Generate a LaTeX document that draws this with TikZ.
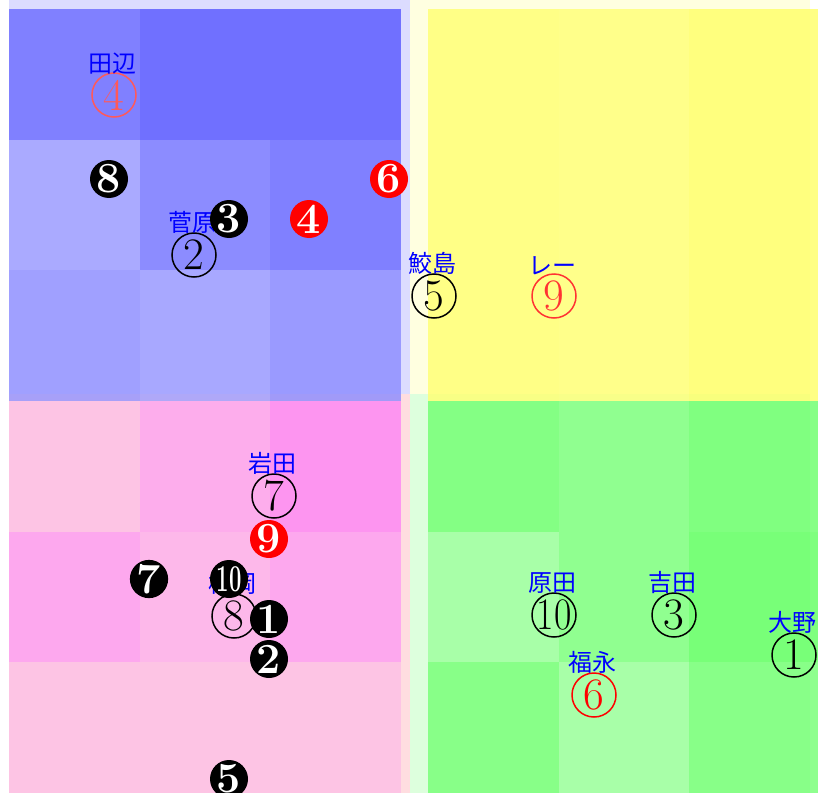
\documentclass[tikz,border=0pt]{standalone}
\usepackage{fontspec}
\newfontfamily\jp{Noto Sans CJK JP}
\usetikzlibrary{positioning}
\definecolor{bgblue}  {HTML}{DCDCFF}
\definecolor{bgyellow}{HTML}{FFFFE0}
\definecolor{bgpink}  {HTML}{FFDDE0}
\definecolor{bggreen} {HTML}{DDFFDD}
\newcommand{\tenring}{\makebox[14pt][c]{\scalebox{0.84}[1]{10}}}
\newcommand{\tendot}{\makebox[10pt][c]{\scalebox{0.58}[1]{\fontsize{19}{19}\selectfont 10}}}

\begin{document}
\begin{tikzpicture}[x=0.5pt, y=-0.5pt,
    cell/.style={fill opacity=0.8},
    ring/.style={circle, draw, line width=0.75pt, inner sep=0pt, minimum size=22pt, font=\fontsize{22.5}{22.5}\selectfont},
    dot/.style={circle, fill=black, text=white, inner sep=0pt, minimum size=19pt, font=\bfseries\fontsize{21.5}{21.5}\selectfont},
    tag/.style={text=blue, inner sep=0pt, xshift=-1pt, font=\jp\fontsize{12}{12}\selectfont}]
  \useasboundingbox (0,0) rectangle (818,792);
  \fill[bgblue]   (9,0) rectangle (410,394);
  \fill[bgyellow] (410,0) rectangle (810,394);
  \fill[bgpink]   (9,394) rectangle (410,800);
  \fill[bggreen]  (410,394) rectangle (810,800);
  \foreach \r/\c/\v in {0/0/105,0/1/85,0/2/85,1/0/158,1/1/120,1/2/105,2/0/145,2/1/155,2/2/138}
    \fill[cell, fill={rgb,255:red,\v;green,\v;blue,255}] ({9+130.67*\c},{9+130.67*\r}) rectangle ++(130.67,130.67);
  \foreach \r in {0,1,2}
    \foreach \c/\v in {0/112,1/117,2/102}
      \fill[cell, fill={rgb,255:red,255;green,255;blue,\v}] ({428+130.67*\c},{9+130.67*\r}) rectangle ++(130.67,130.67);
  \foreach \r/\c/\g/\b in {0/0/190/229,0/1/162/239,0/2/132/244,1/0/155/242,1/1/175/237,1/2/155/242,2/0/190/229,2/1/190/229,2/2/190/229}
    \fill[cell, fill={rgb,255:red,253;green,\g;blue,\b}] ({9+130.67*\c},{401+130.67*\r}) rectangle ++(130.67,130.67);
  \foreach \r/\c/\v in {0/0/110,0/1/125,0/2/105,1/0/155,1/1/125,1/2/95,2/0/115,2/1/155,2/2/115}
    \fill[cell, fill={rgb,255:red,\v;green,255;blue,\v}] ({428+130.67*\c},{401+130.67*\r}) rectangle ++(130.67,130.67);

  \node[ring, red!65] (r4) at (114,95) {4};
  \node[ring] (r2) at (194,255) {2};
  \node[ring] (r5) at (434,296) {5};
  \node[ring, red!80] (r9) at (554,296) {9};
  \node[ring] (r7) at (274,496) {7};
  \node[ring] (r8) at (234,616) {8};
  \node[ring] (r10) at (554,615) {\tenring};
  \node[ring] (r3) at (674,615) {3};
  \node[ring] (r1) at (794,655) {1};
  \node[ring, red] (r6) at (594,695) {6};

  \node[tag, above=-1pt of r4] (n4) {田辺};
  \node[tag, above=-1pt of r2] (n2) {菅原};
  \node[tag, above=-1pt of r5] (n5) {鮫島};
  \node[tag, above=-1pt of r9] (n9) {レー};
  \node[tag, above=-1pt of r7] (n7) {岩田};
  \node[tag, above=-1pt of r8] (n8) {松岡};
  \node[tag, above=-1pt of r10] (n10) {原田};
  \node[tag, above=-1pt of r3] (n3) {吉田};
  \node[tag, above=-1pt of r1] (n1) {大野};
  \node[tag, above=-1pt of r6] (n6) {福永};

  \node[dot] (d8) at (109,179) {8};
  \node[dot] (d3) at (229,219) {3};
  \node[dot, fill=red] (d4) at (309,219) {4};
  \node[dot, fill=red] (d6) at (389,179) {6};
  \node[dot, fill=red] (d9) at (269,539) {9};
  \node[dot] (d7) at (149,579) {7};
  \node[dot] (d10) at (229,579) {\tendot};
  \node[dot] (d1) at (269,619) {1};
  \node[dot] (d2) at (269,659) {2};
  \node[dot] (d5) at (229,779) {5};
\end{tikzpicture}
\end{document}
